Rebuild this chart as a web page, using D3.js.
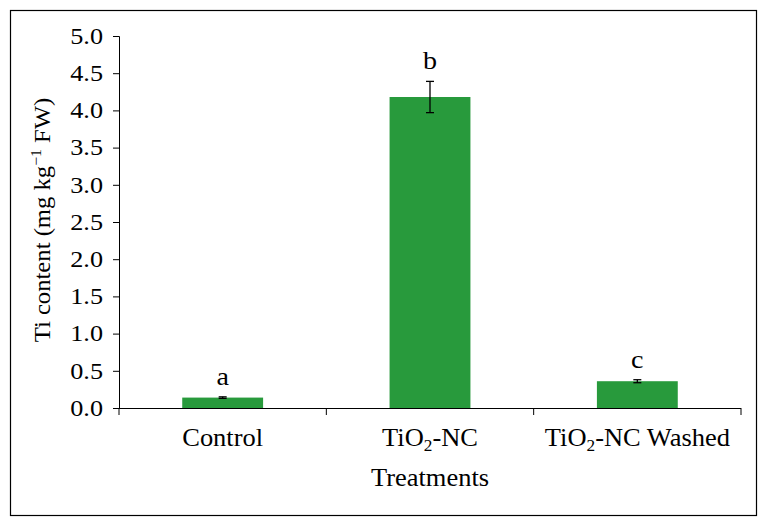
<!DOCTYPE html>
<html><head><meta charset="utf-8">
<script src="https://cdn.jsdelivr.net/npm/d3@7"></script>
<style>body{margin:0;background:#fff}svg{display:block}text{font-family:"Liberation Serif","Times New Roman",serif;fill:#000}</style>
</head><body><svg id="c" width="766" height="526"></svg>
<script>
const categories = ["Control", "TiO2-NC", "TiO2-NC Washed"];
const values = [0.14, 4.18, 0.36];
const errors = [0.01, 0.21, 0.02];
const letters = ["a", "b", "c"];
const yTicks = [0, 0.5, 1, 1.5, 2, 2.5, 3, 3.5, 4, 4.5, 5];

const svg = d3.select("#c");
svg.append("rect").attr("x",10.5).attr("y",10.5).attr("width",746).attr("height",505)
  .attr("fill","#fff").attr("stroke","#000").attr("stroke-width",1.2);

const L=119, R=741, T=36, B=408;
const x = d3.scaleBand().domain(categories).range([L,R]).paddingInner(0.61).paddingOuter(0.305);
const y = d3.scaleLinear().domain([0,5]).range([B,T]);

// bars
svg.selectAll(".bar").data(values).join("rect")
  .attr("x",(d,i)=>x(categories[i])).attr("width",x.bandwidth())
  .attr("y",d=>y(d)).attr("height",d=>y(0)-y(d)).attr("fill","#289a3c");

// error bars
const eg = svg.append("g").attr("stroke","#000").attr("stroke-width",1.3);
values.forEach((v,i)=>{
  const cx = x(categories[i]) + x.bandwidth()/2;
  eg.append("line").attr("x1",cx).attr("x2",cx).attr("y1",y(v+errors[i])).attr("y2",y(v-errors[i]));
  eg.append("line").attr("x1",cx-4).attr("x2",cx+4).attr("y1",y(v+errors[i])).attr("y2",y(v+errors[i]));
  eg.append("line").attr("x1",cx-4).attr("x2",cx+4).attr("y1",y(v-errors[i])).attr("y2",y(v-errors[i]));
  svg.append("text").attr("transform",`translate(${cx},${y(v+errors[i])-12}) scale(1.08,1)`)
    .attr("text-anchor","middle").attr("font-size",26).text(letters[i]);
});

// y axis
const TSX = 1.14;
const yAxis = d3.axisLeft(y).tickValues(yTicks).tickFormat(d3.format(".1f")).tickSizeOuter(0).tickSize(6).tickPadding(8);
const ga = svg.append("g").attr("transform",`translate(${L},0)`).call(yAxis);
ga.selectAll("text").attr("font-size",23).style("font-family","'Liberation Serif',serif")
  .attr("x",-16/TSX).attr("transform",`scale(${TSX},1)`);
ga.selectAll("line").attr("stroke","#000");
ga.select(".domain").attr("stroke","#000");

// x axis line & ticks
const gx = svg.append("g");
gx.append("line").attr("x1",L-6).attr("x2",R).attr("y1",B+0.5).attr("y2",B+0.5).attr("stroke","#000");
const bounds = [L, ...categories.map(c=>x(c)+x.bandwidth()+x.step()*x.paddingInner()/2)];
bounds.forEach((bx,i)=>{
  const xx = i===bounds.length-1?R:bx;
  gx.append("line").attr("x1",xx).attr("x2",xx).attr("y1",B).attr("y2",B+7).attr("stroke","#000");
});

// category labels
const LSX = 1.08;
categories.forEach(c=>{
  const cx = x(c)+x.bandwidth()/2;
  const t = svg.append("text").attr("transform",`translate(${cx},446) scale(${LSX},1)`)
    .attr("text-anchor","middle").attr("font-size",24.5);
  if (c.startsWith("TiO2")) {
    t.append("tspan").text("TiO");
    t.append("tspan").attr("font-size",16).attr("dy",5).text("2");
    t.append("tspan").attr("dy",-5).text(c.slice(4));
  } else t.text(c);
});

svg.append("text").attr("transform",`translate(430,486) scale(${LSX},1)`)
  .attr("text-anchor","middle").attr("font-size",24.5).text("Treatments");

const yt = svg.append("text").attr("transform","translate(50,220) rotate(-90) scale(1.05,1)")
  .attr("text-anchor","middle").attr("font-size",23.5);
yt.append("tspan").text("Ti content (mg kg");
yt.append("tspan").attr("font-size",15).attr("dy",-9).text("−1");
yt.append("tspan").attr("dy",9).text(" FW)");
</script></body></html>
